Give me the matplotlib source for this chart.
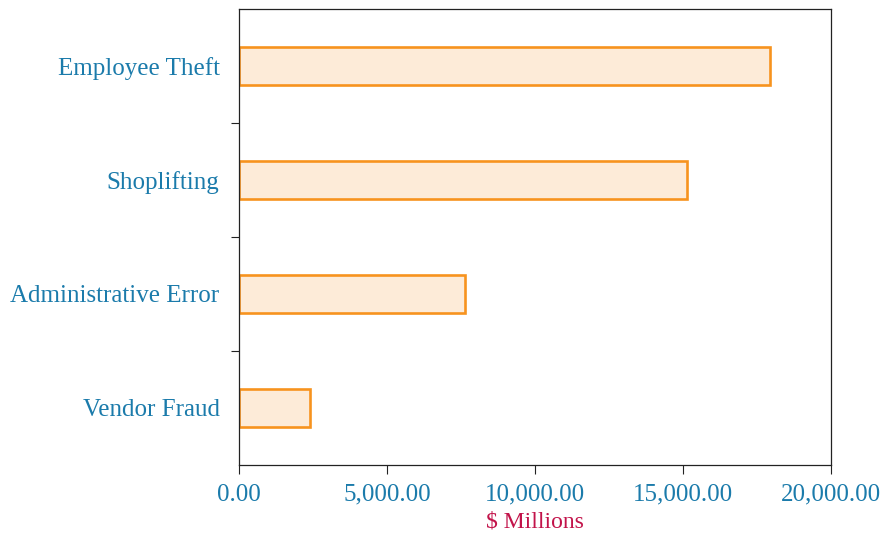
import matplotlib
matplotlib.use("Agg")
import matplotlib.pyplot as plt
from matplotlib.ticker import FixedLocator, FuncFormatter

CATEGORIES = ["Employee Theft", "Shoplifting", "Administrative Error", "Vendor Fraud"]
VALUES = [17940, 15140, 7640, 2400]
X_TICKS = [0, 5000, 10000, 15000, 20000]

TEXT_BLUE = "#1b7bab"
LABEL_RED = "#c2134a"
EDGE = "#f7931e"
FILL = "#fdebd8"

plt.rcParams["font.family"] = ["Liberation Serif", "DejaVu Serif"]

fig = plt.figure(figsize=(8.87, 5.35), dpi=100)
ax = fig.add_axes([239 / 887, 1 - 465 / 535, 592 / 887, 456 / 535])

pos = list(range(len(CATEGORIES)))
ax.barh(pos, VALUES, height=0.325, color=FILL, edgecolor=EDGE, linewidth=1.9)

ax.set_ylim(len(CATEGORIES) - 0.5, -0.5)
ax.set_xlim(0, 20000)

ax.set_yticks(pos)
ax.set_yticklabels(CATEGORIES)
ax.yaxis.set_minor_locator(FixedLocator([0.5, 1.5, 2.5]))
ax.tick_params(axis="y", which="major", length=0, pad=14, labelsize=18, labelcolor=TEXT_BLUE)
ax.tick_params(axis="y", which="minor", length=5.5, width=0.8, color="#222222", direction="out")

ax.set_xticks(X_TICKS)
ax.xaxis.set_major_formatter(FuncFormatter(lambda v, p: f"{v:,.2f}"))
ax.tick_params(axis="x", length=6.5, width=0.8, color="#222222", pad=7,
               labelsize=18, labelcolor=TEXT_BLUE)

ax.set_xlabel("$ Millions", color=LABEL_RED, fontsize=17, labelpad=4)

for s in ax.spines.values():
    s.set_color("#222222")
    s.set_linewidth(0.9)

fig.savefig("out.png", dpi=100)
